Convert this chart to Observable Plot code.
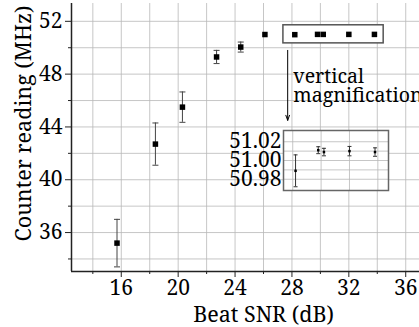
<!DOCTYPE html>
<html>
<head>
<meta charset="utf-8">
<script src="https://cdn.jsdelivr.net/npm/d3@7"></script>
<script src="https://cdn.jsdelivr.net/npm/@observablehq/plot@0.6"></script>
<style>
  html, body { margin: 0; padding: 0; background: white; }
  #chart { position: relative; width: 419px; height: 327px; overflow: hidden; background: white; }
  #chart svg { position: absolute; background: transparent; max-width: none !important; }
  #chart svg text, #chart svg tspan { font-family: 'Noto Serif', 'DejaVu Serif', serif !important; }
</style>
</head>
<body>
<div id="chart"></div>
<script>
// ---- data ----
const snr     = [15.7, 18.4, 20.3, 22.7, 24.4, 26.1, 28.2, 29.8, 30.2, 32.0, 33.8];
const reading = [35.2, 42.7, 45.5, 49.3, 50.05, 51.0, 50.989, 51.011, 51.009, 51.010, 51.009];
const errs    = [1.8, 1.6, 1.15, 0.5, 0.38, 0.0, 0.017, 0.0037, 0.004, 0.005, 0.0045];
const insetIndex = [6, 7, 8, 9, 10];

const xTicks = [16, 20, 24, 28, 32, 36];
const xMinor = [14, 18, 22, 26, 30, 34, 38];
const yTicks = [36, 40, 44, 48, 52];
const yMinor = [34, 38, 42, 46, 50];
const insetYTicks = [50.98, 51.00, 51.02];
const insetYGrid = [50.98, 50.99, 51.00, 51.01, 51.02];
const insetXGrid = [28, 30, 32, 34];

const xLabel = "Beat SNR (dB)";
const yLabel = "Counter reading (MHz)";
const noteText = ["vertical\nmagnification"];
// annotation geometry (data units)
const noteX = [28.1], noteY = [47.1];
const arrowX = [27.7], arrowFrom = [49.8], arrowTo = [44.5];
const boxX = [27.4, 34.45], boxY = [50.33, 51.7];

const xDomain = [12.5, 39.5];
const yDomain = [33.05, 53.35];
const insetXDomain = [27.35, 34.75];
const insetYDomain = [50.968, 51.032];

const data = snr.map((x, i) => ({x, y: reading[i], e: errs[i]}));
const barData = data.filter(d => d.e > 0.2);
const insetData = insetIndex.map(i => data[i]);

const font = "Noto Serif";
const cap = half => ({draw(ctx) { ctx.moveTo(-half, 0); ctx.lineTo(half, 0); }});

const main = Plot.plot({
  width: 460, height: 327,
  marginLeft: 71, marginRight: 5, marginTop: 3, marginBottom: 56,
  style: {fontFamily: font, fontSize: "21px", color: "black", background: "transparent"},
  x: {domain: xDomain},
  y: {domain: yDomain},
  marks: [
    Plot.gridX(xMinor.concat(xTicks), {stroke: "#b8b8b8", strokeOpacity: 1, strokeWidth: 0.8}),
    Plot.gridY(yMinor.concat(yTicks), {stroke: "#b8b8b8", strokeOpacity: 1, strokeWidth: 0.8}),
    Plot.ruleY([yDomain[0]], {stroke: "#222", strokeWidth: 1.5}),
    Plot.ruleX([xDomain[0]], {stroke: "#222", strokeWidth: 1.5}),
    Plot.axisX(xTicks, {tickSize: 6, tickPadding: 3, label: null, stroke: "#222", fontSize: 21}),
    Plot.axisX(xMinor, {tickSize: 3, text: null, label: null, stroke: "#222"}),
    Plot.axisY(yTicks, {tickSize: 6, tickPadding: 3, label: null, stroke: "#222", fontSize: 21}),
    Plot.axisY(yMinor, {tickSize: 3, text: null, label: null, stroke: "#222"}),
    Plot.text([xLabel], {frameAnchor: "bottom", dy: 44, textAnchor: "middle", lineAnchor: "middle", fontSize: 21.5}),
    Plot.text([yLabel], {frameAnchor: "left", dx: -47, dy: -14, rotate: -90, textAnchor: "middle", lineAnchor: "middle", fontSize: 21.5}),
    Plot.rect([0], {x1: () => boxX[0], x2: () => boxX[1], y1: () => boxY[0], y2: () => boxY[1],
                    fill: "white", stroke: "#555", strokeWidth: 1.5}),
    Plot.ruleX(barData, {x: "x", y1: d => d.y - d.e, y2: d => d.y + d.e, stroke: "#444", strokeWidth: 1}),
    Plot.dot(barData, {x: "x", y: d => d.y + d.e, symbol: cap(3), r: 3, fill: "none", stroke: "#444", strokeWidth: 1}),
    Plot.dot(barData, {x: "x", y: d => d.y - d.e, symbol: cap(3), r: 3, fill: "none", stroke: "#444", strokeWidth: 1}),
    Plot.dot(data, {x: "x", y: "y", symbol: "square", r: 3.1, fill: "black", stroke: "none"}),
    Plot.arrow([0], {x1: () => arrowX[0], x2: () => arrowX[0], y1: () => arrowFrom[0], y2: () => arrowTo[0],
                     stroke: "black", strokeWidth: 1, headLength: 8, headAngle: 40}),
    Plot.text(noteText, {x: () => noteX[0], y: () => noteY[0], textAnchor: "start", lineAnchor: "middle",
                         fontSize: 19.5, lineHeight: 0.98})
  ]
});
main.style.left = "0px";
main.style.top = "0px";

const inset = Plot.plot({
  width: 177, height: 64,
  marginLeft: 70, marginRight: 2, marginTop: 2, marginBottom: 2,
  style: {fontFamily: font, fontSize: "21px", color: "black", background: "transparent"},
  x: {domain: insetXDomain, axis: null},
  y: {domain: insetYDomain},
  marks: [
    Plot.frame({fill: "white", stroke: "none"}),
    Plot.gridX(insetXGrid, {stroke: "#b8b8b8", strokeOpacity: 1, strokeWidth: 0.8}),
    Plot.gridY(insetYGrid, {stroke: "#b8b8b8", strokeOpacity: 1, strokeWidth: 0.8}),
    Plot.axisY(insetYTicks, {tickSize: 0, tickPadding: 2, label: null, tickFormat: d3.format(".2f"), fontSize: 21}),
    Plot.ruleX(insetData, {x: "x", y1: d => d.y - d.e, y2: d => d.y + d.e, stroke: "#333", strokeWidth: 1}),
    Plot.dot(insetData, {x: "x", y: d => d.y + d.e, symbol: cap(2), r: 2, fill: "none", stroke: "#333", strokeWidth: 1}),
    Plot.dot(insetData, {x: "x", y: d => d.y - d.e, symbol: cap(2), r: 2, fill: "none", stroke: "#333", strokeWidth: 1}),
    Plot.dot(insetData, {x: "x", y: "y", symbol: "square", r: 1.4, fill: "black", stroke: "none"}),
    Plot.frame({stroke: "#666", strokeWidth: 1.5})
  ]
});
inset.style.left = "213px";
inset.style.top = "128px";

const chart = document.getElementById("chart");
chart.appendChild(main);
chart.appendChild(inset);
</script>
</body>
</html>
